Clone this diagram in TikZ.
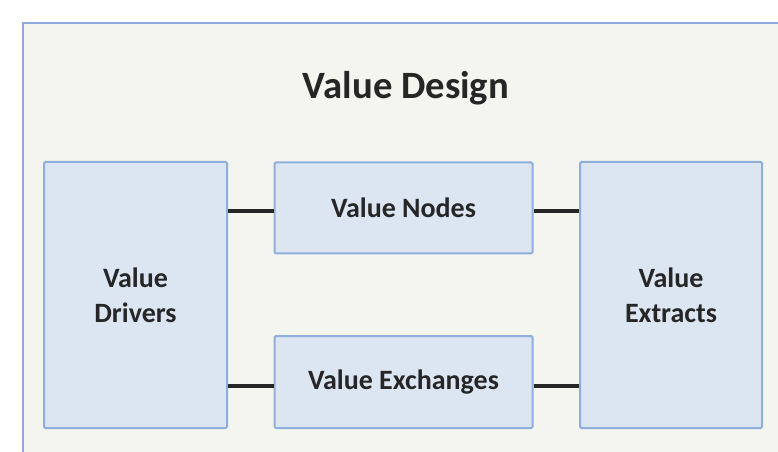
\documentclass[tikz,border=0pt]{standalone}
\usepackage{fontspec}
\setmainfont{Carlito}
\definecolor{outerfill}{HTML}{F4F5EE}
\definecolor{outerline}{HTML}{8FAADC}
\definecolor{boxfill}{HTML}{DCE6F2}
\definecolor{boxline}{HTML}{8EAEDB}
\definecolor{txt}{HTML}{262626}
\definecolor{conn}{HTML}{262626}
\tikzset{
  vbox/.style={draw=boxline, line width=1.5pt, fill=boxfill, rounded corners=1pt,
    align=center, text=txt, font=\bfseries\fontsize{21}{26}\selectfont, inner sep=0pt},
  link/.style={draw=conn, line width=3pt}
}
\begin{document}
\begin{tikzpicture}[x=0.75pt,y=-0.75pt]
\useasboundingbox (0,0) rectangle (778,452);
\clip (0,0) rectangle (778,452);
\fill[white] (0,0) rectangle (778,452);
\draw[draw=outerline, line width=2pt, fill=outerfill] (23,23) rectangle (800,480);
\node[text=txt, font=\bfseries\fontsize{29}{34}\selectfont] (title) at (406,88) {Value Design};
\node[vbox, minimum width=183*0.75pt, minimum height=266*0.75pt] (drivers) at (135.5,295) {Value\\Drivers};
\node[vbox, minimum width=258*0.75pt, minimum height=91*0.75pt] (nodes) at (403.5,208) {Value Nodes};
\node[vbox, minimum width=258*0.75pt, minimum height=92*0.75pt] (exch) at (403.5,382) {Value Exchanges};
\node[vbox, minimum width=182*0.75pt, minimum height=266*0.75pt] (extr) at (671,295) {Value\\Extracts};
\draw[link] (drivers.east |- 0,211) -- (nodes.west |- 0,211);
\draw[link] (nodes.east |- 0,211) -- (extr.west |- 0,211);
\draw[link] (drivers.east |- 0,386) -- (exch.west |- 0,386);
\draw[link] (exch.east |- 0,386) -- (extr.west |- 0,386);
\end{tikzpicture}
\end{document}
